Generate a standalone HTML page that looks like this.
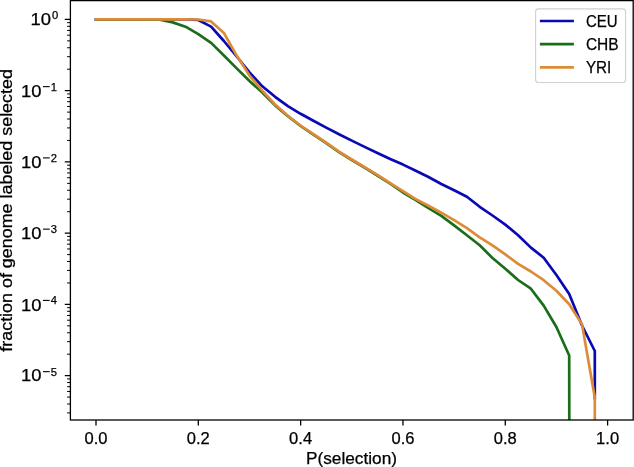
<!DOCTYPE html>
<html><head><meta charset="utf-8"><style>
html,body{margin:0;padding:0;background:#fff;overflow:hidden}
svg{display:block;will-change:transform}
text{font-family:"Liberation Sans", sans-serif;fill:#000;stroke:#000;stroke-width:0.25px}
</style></head><body>
<svg width="634" height="467" viewBox="0 0 634 467">
<rect x="0" y="0" width="634" height="467" fill="#fff"/>
<clipPath id="ax"><rect x="70.4" y="0.6" width="562.8000000000001" height="419.4"/></clipPath>
<g clip-path="url(#ax)" fill="none" stroke-width="2.7" stroke-linejoin="round" stroke-linecap="square">
<polyline points="96.0,19.4 108.8,19.4 121.6,19.4 134.4,19.4 147.2,19.4 159.9,19.4 172.7,19.4 185.5,19.4 198.3,20.0 211.1,26.6 223.9,41.0 236.7,56.5 249.5,72.4 262.3,86.3 275.1,96.8 287.9,106.2 300.6,113.8 313.4,120.8 326.2,127.6 339.0,134.2 351.8,140.6 364.6,146.9 377.4,153.0 390.2,158.9 403.0,164.6 415.8,170.8 428.5,177.0 441.3,184.0 454.1,190.3 466.9,196.8 479.7,206.8 492.5,215.5 505.3,224.6 518.1,235.3 530.9,247.6 543.7,257.7 556.4,275.0 569.2,294.0 582.0,325.5 594.8,351.0 594.8,398.0" stroke="#0a0ab4"/>
<polyline points="96.0,19.4 108.8,19.4 121.6,19.4 134.4,19.4 147.2,19.4 159.9,19.6 172.7,22.4 185.5,26.7 198.3,34.1 211.1,42.9 223.9,55.5 236.7,68.4 249.5,81.0 262.3,92.5 275.1,105.4 287.9,116.2 300.6,126.0 313.4,134.6 326.2,143.1 339.0,152.1 351.8,160.0 364.6,167.6 377.4,175.5 390.2,183.7 403.0,192.5 415.8,200.0 428.5,208.2 441.3,215.8 454.1,225.4 466.9,235.3 479.7,245.3 492.5,258.0 505.3,268.7 518.1,280.0 530.9,288.7 543.7,305.6 556.4,327.0 569.2,355.5 569.3,440.0" stroke="#1a6e1a"/>
<polyline points="96.0,19.4 108.8,19.4 121.6,19.4 134.4,19.4 147.2,19.4 159.9,19.4 172.7,19.4 185.5,19.4 198.3,19.5 211.1,21.4 223.9,33.0 236.7,55.6 249.5,75.6 262.3,90.6 275.1,104.5 287.9,115.7 300.6,125.5 313.4,134.1 326.2,142.6 339.0,151.6 351.8,159.5 364.6,167.1 377.4,174.9 390.2,183.1 403.0,191.1 415.8,199.1 428.5,205.7 441.3,212.7 454.1,220.2 466.9,228.1 479.7,237.3 492.5,245.3 505.3,254.3 518.1,263.9 530.9,271.5 543.7,280.2 556.4,290.8 569.2,304.3 582.0,324.3 594.8,397.5 594.8,440.0" stroke="#dc8c37"/>
</g>
<rect x="70.4" y="0.6" width="562.8000000000001" height="419.4" fill="none" stroke="#000" stroke-width="1.3"/>
<path d="M96.00,420.0v5.6M198.32,420.0v5.6M300.64,420.0v5.6M402.96,420.0v5.6M505.28,420.0v5.6M607.60,420.0v5.6M70.4,19.40h-5.6M70.4,90.65h-5.6M70.4,161.90h-5.6M70.4,233.15h-5.6M70.4,304.40h-5.6M70.4,375.65h-5.6" stroke="#000" stroke-width="1.3" fill="none"/>
<path d="M70.4,69.20h-3.3M70.4,56.66h-3.3M70.4,47.75h-3.3M70.4,40.85h-3.3M70.4,35.21h-3.3M70.4,30.44h-3.3M70.4,26.30h-3.3M70.4,22.66h-3.3M70.4,140.45h-3.3M70.4,127.91h-3.3M70.4,119.00h-3.3M70.4,112.10h-3.3M70.4,106.46h-3.3M70.4,101.69h-3.3M70.4,97.55h-3.3M70.4,93.91h-3.3M70.4,211.70h-3.3M70.4,199.16h-3.3M70.4,190.25h-3.3M70.4,183.35h-3.3M70.4,177.71h-3.3M70.4,172.94h-3.3M70.4,168.80h-3.3M70.4,165.16h-3.3M70.4,282.95h-3.3M70.4,270.41h-3.3M70.4,261.50h-3.3M70.4,254.60h-3.3M70.4,248.96h-3.3M70.4,244.19h-3.3M70.4,240.05h-3.3M70.4,236.41h-3.3M70.4,354.20h-3.3M70.4,341.66h-3.3M70.4,332.75h-3.3M70.4,325.85h-3.3M70.4,320.21h-3.3M70.4,315.44h-3.3M70.4,311.30h-3.3M70.4,307.66h-3.3M70.4,412.91h-3.3M70.4,404.00h-3.3M70.4,397.10h-3.3M70.4,391.46h-3.3M70.4,386.69h-3.3M70.4,382.55h-3.3M70.4,378.91h-3.3" stroke="#000" stroke-width="1.0" fill="none"/>
<text x="96.00" y="443.8" text-anchor="middle" font-size="16.2" textLength="23.0" lengthAdjust="spacingAndGlyphs">0.0</text>
<text x="198.32" y="443.8" text-anchor="middle" font-size="16.2" textLength="23.0" lengthAdjust="spacingAndGlyphs">0.2</text>
<text x="300.64" y="443.8" text-anchor="middle" font-size="16.2" textLength="23.0" lengthAdjust="spacingAndGlyphs">0.4</text>
<text x="402.96" y="443.8" text-anchor="middle" font-size="16.2" textLength="23.0" lengthAdjust="spacingAndGlyphs">0.6</text>
<text x="505.28" y="443.8" text-anchor="middle" font-size="16.2" textLength="23.0" lengthAdjust="spacingAndGlyphs">0.8</text>
<text x="607.60" y="443.8" text-anchor="middle" font-size="16.2" textLength="23.0" lengthAdjust="spacingAndGlyphs">1.0</text>
<text x="30.6" y="25.40" font-size="15.8" textLength="20.5" lengthAdjust="spacingAndGlyphs">10</text>
<text x="55.0" y="19.30" font-size="11.2" text-anchor="middle">0</text>
<text x="20.9" y="97.25" font-size="15.8" textLength="20.5" lengthAdjust="spacingAndGlyphs">10</text>
<rect x="43.0" y="86.10" width="6.7" height="1.1" fill="#000"/>
<text x="53.9" y="90.55" font-size="11.2" text-anchor="middle">1</text>
<text x="20.9" y="167.60" font-size="15.8" textLength="20.5" lengthAdjust="spacingAndGlyphs">10</text>
<rect x="43.0" y="157.35" width="6.7" height="1.1" fill="#000"/>
<text x="53.9" y="161.80" font-size="11.2" text-anchor="middle">2</text>
<text x="20.9" y="238.65" font-size="15.8" textLength="20.5" lengthAdjust="spacingAndGlyphs">10</text>
<rect x="43.0" y="228.60" width="6.7" height="1.1" fill="#000"/>
<text x="53.9" y="233.05" font-size="11.2" text-anchor="middle">3</text>
<text x="20.9" y="310.50" font-size="15.8" textLength="20.5" lengthAdjust="spacingAndGlyphs">10</text>
<rect x="43.0" y="299.85" width="6.7" height="1.1" fill="#000"/>
<text x="53.9" y="304.30" font-size="11.2" text-anchor="middle">4</text>
<text x="20.9" y="381.45" font-size="15.8" textLength="20.5" lengthAdjust="spacingAndGlyphs">10</text>
<rect x="43.0" y="371.10" width="6.7" height="1.1" fill="#000"/>
<text x="53.9" y="375.55" font-size="11.2" text-anchor="middle">5</text>
<text x="351.5" y="464.3" text-anchor="middle" font-size="16.2" textLength="91" lengthAdjust="spacingAndGlyphs">P(selection)</text>
<text transform="translate(12.3,210.4) rotate(-90)" text-anchor="middle" font-size="16.2" textLength="282.6" lengthAdjust="spacingAndGlyphs">fraction of genome labeled selected</text>
<rect x="535.6" y="8.9" width="90" height="73.6" rx="2.8" fill="#fff" fill-opacity="0.8" stroke="#d0d0d0" stroke-width="1.1"/>
<path d="M539.9,21.0H573.9" stroke="#0a0ab4" stroke-width="2.7"/>
<text x="585.9" y="26.6" font-size="16.2" textLength="31.7" lengthAdjust="spacingAndGlyphs">CEU</text>
<path d="M539.9,44.2H573.9" stroke="#1a6e1a" stroke-width="2.7"/>
<text x="585.9" y="49.8" font-size="16.2" textLength="32.8" lengthAdjust="spacingAndGlyphs">CHB</text>
<path d="M539.9,67.4H573.9" stroke="#dc8c37" stroke-width="2.7"/>
<text x="585.9" y="73.0" font-size="16.2" textLength="25.4" lengthAdjust="spacingAndGlyphs">YRI</text>
</svg>
</body></html>
